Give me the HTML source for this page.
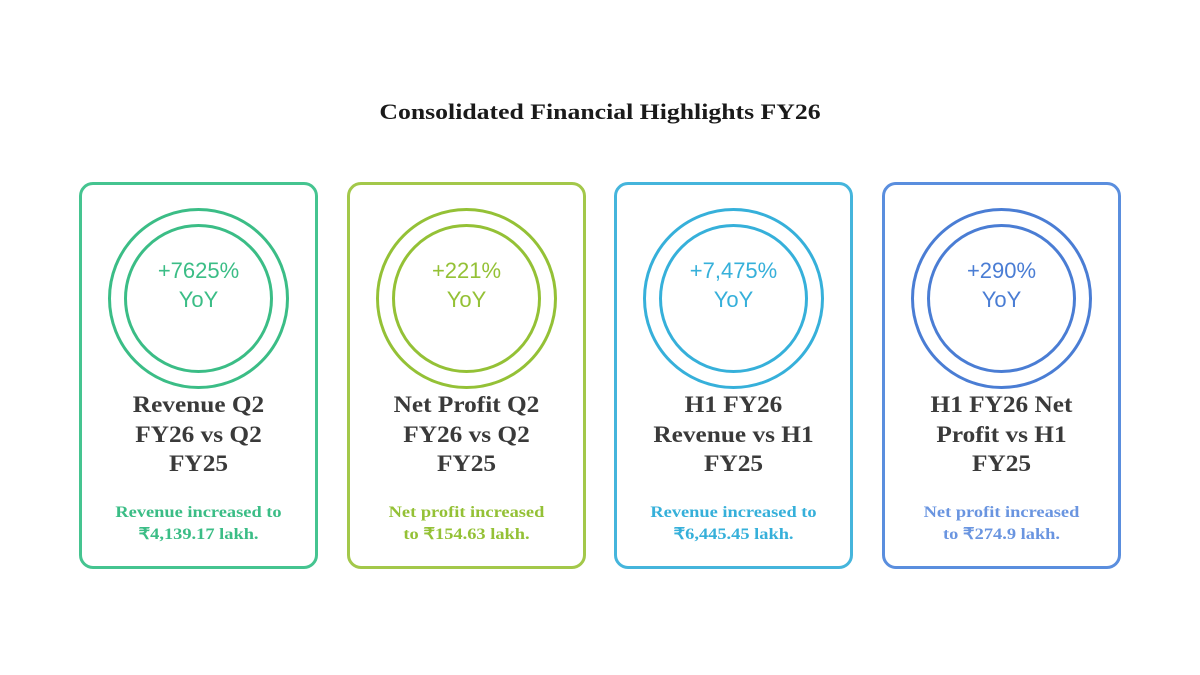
<!DOCTYPE html>
<html><head><style>
body{margin:0;width:1200px;height:675px;background:#fff;position:relative;overflow:hidden;font-family:"Liberation Serif",serif}
.t{position:absolute;left:0;width:1200px;top:99px;text-align:center;font-weight:bold;font-size:22px;color:#1a1a1a;transform:scaleX(1.17)}
.c{position:absolute;top:182px;width:233px;height:381px;border:3px solid;border-radius:14px}
.o{position:absolute;left:26px;top:23px;width:175px;height:175px;border:3px solid;border-radius:50%}
.i{position:absolute;left:13px;top:13px;border:3px solid;border-radius:50%;text-align:center;font-family:"Liberation Sans",sans-serif;font-size:22px;line-height:29px;box-sizing:border-box;padding-top:29px;width:149px;height:149px}
.h{position:absolute;top:205px;left:0;width:233px;text-align:center;font-weight:bold;font-size:23px;line-height:29.5px;color:#3a3a3a;transform:scaleX(1.1)}
.s{position:absolute;top:317px;left:0;width:233px;text-align:center;font-weight:bold;font-size:16px;line-height:22px;transform:scaleX(1.15)}
</style></head><body>
<div class="t">Consolidated Financial Highlights FY26</div>
<div class="c" style="left:79px;border-color:#45c490;color:#3bbd86"><div class="o"><div class="i">+7625%<br>YoY</div></div><div class="h">Revenue Q2<br>FY26 vs Q2<br>FY25</div><div class="s">Revenue increased to<br>₹4,139.17 lakh.</div></div>
<div class="c" style="left:347px;border-color:#a3c84a;color:#94c136"><div class="o"><div class="i">+221%<br>YoY</div></div><div class="h">Net Profit Q2<br>FY26 vs Q2<br>FY25</div><div class="s">Net profit increased<br>to ₹154.63 lakh.</div></div>
<div class="c" style="left:614px;border-color:#45b5dc;color:#36b0da"><div class="o"><div class="i">+7,475%<br>YoY</div></div><div class="h">H1 FY26<br>Revenue vs H1<br>FY25</div><div class="s">Revenue increased to<br>₹6,445.45 lakh.</div></div>
<div class="c" style="left:882px;border-color:#5a8ede;color:#4a7dd4"><div class="o"><div class="i">+290%<br>YoY</div></div><div class="h">H1 FY26 Net<br>Profit vs H1<br>FY25</div><div class="s" style="color:#6a95e0">Net profit increased<br>to ₹274.9 lakh.</div></div>
</body></html>
